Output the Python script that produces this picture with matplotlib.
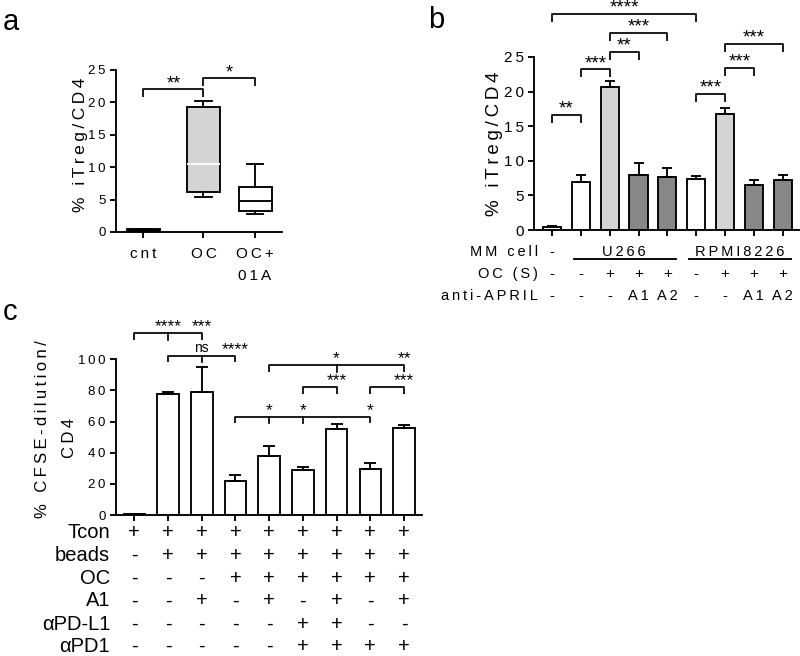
import numpy as np
import matplotlib
matplotlib.use('Agg')
import matplotlib.pyplot as plt
from matplotlib.transforms import blended_transform_factory

plt.rcParams['font.family'] = ['Liberation Sans', 'DejaVu Sans']

# ---------------- data ----------------
# panel a : box plot summary
a_groups = ['cnt', 'OC', 'OC+\n01A']
a_whislo = [0.05, 5.4, 2.8]
a_q1 = [0.05, 6.2, 3.2]
a_med = [0.25, 10.5, 4.8]
a_q3 = [0.45, 19.3, 6.9]
a_whishi = [0.45, 20.2, 10.5]
a_yticks = [0, 5, 10, 15, 20, 25]
a_sig = [(0, 1, '**', 22.1), (1, 2, '*', 23.8)]

# panel b : bars
b_values = [0.4, 6.9, 20.7, 7.9, 7.6, 7.35, 16.8, 6.55, 7.2]
b_err = [0.15, 1.0, 0.9, 1.8, 1.35, 0.4, 0.8, 0.7, 0.7]
b_group = ['none', 'none', 'OC', 'anti', 'anti', 'none', 'OC', 'anti', 'anti']
b_yticks = [0, 5, 10, 15, 20, 25]
b_mm_cells = ['U266', 'RPMI8226']
b_mm_span = [(1, 4), (5, 8)]
b_oc = ['-', '-', '+', '+', '+', '-', '+', '+', '+']
b_april = ['-', '-', '-', 'A1', 'A2', '-', '-', 'A1', 'A2']
b_sig = [(0, 5, '****', 31.2), (2, 4, '***', 28.5), (2, 3, '**', 25.7),
         (1, 2, '***', 23.2), (0, 1, '**', 16.6), (5, 6, '***', 19.7),
         (6, 7, '***', 23.4), (6, 8, '***', 26.9)]

# panel c : bars
c_values = [0.5, 78, 79, 22, 38, 28.7, 55.5, 29.8, 55.9]
c_err = [0.3, 1.3, 16, 3.5, 6.5, 2.3, 3.0, 3.4, 2.0]
c_yticks = [0, 20, 40, 60, 80, 100]
c_row_names = ['Tcon', 'beads', 'OC', 'A1', 'αPD-L1', 'αPD1']
c_rows = [
    ['+', '+', '+', '+', '+', '+', '+', '+', '+'],
    ['-', '+', '+', '+', '+', '+', '+', '+', '+'],
    ['-', '-', '-', '+', '+', '+', '+', '+', '+'],
    ['-', '-', '+', '-', '+', '-', '+', '-', '+'],
    ['-', '-', '-', '-', '-', '+', '+', '-', '-'],
    ['-', '-', '-', '-', '-', '+', '+', '+', '+'],
]
# brackets: (start, end, y, inner ticks, [(x, label, text_y)])
c_sig = [
    (0, 2, 117.1, [1], [(1, '****', 118.3), (2, '***', 118.3)]),
    (1, 3, 102.4, [2], [(2, 'ns', 104.5), (3, '****', 103.6)]),
    (3, 7, 63.2, [4, 5], [(4, '*', 64.0), (5, '*', 64.0), (7, '*', 64.0)]),
    (4, 8, 96.4, [6], [(6, '*', 97.8), (8, '**', 97.8)]),
    (5, 6, 82.0, [], [(6, '***', 83.5)]),
    (7, 8, 82.0, [], [(8, '***', 83.5)]),
]

# ---------------- style ----------------
W, H = 800, 656
LW = 1.35
fill = {'none': 'white', 'OC': '#d4d4d4', 'anti': '#878787'}


def track(s):
    return '\n'.join('\u2009'.join(line) for line in s.split('\n'))


def fx(px):
    return px / W


def fy(py):
    return 1 - py / H


def style_axes(ax):
    for s in ['top', 'right']:
        ax.spines[s].set_visible(False)
    for s in ['left', 'bottom']:
        ax.spines[s].set_linewidth(LW)
    ax.tick_params(direction='out', length=4, width=LW, color='k')


def bracket(ax, x1, x2, y, tip, inner=(), lw=1.25):
    ax.plot([x1, x1, x2, x2], [y - tip, y, y, y - tip], color='k', lw=lw,
            clip_on=False, solid_capstyle='butt')
    for t in inner:
        ax.plot([t, t], [y, y - tip], color='k', lw=lw, clip_on=False)


fig = plt.figure(figsize=(W / 100, H / 100), dpi=100)

# ================= panel a =================
axa = fig.add_axes([fx(116), fy(232), fx(282 - 116), (232 - 70) / H])
style_axes(axa)
a_pos = [0, 1, 1.86]
stats = []
for i in range(len(a_groups)):
    stats.append(dict(med=a_med[i], q1=a_q1[i], q3=a_q3[i],
                      whislo=a_whislo[i], whishi=a_whishi[i], fliers=[]))
bp = axa.bxp(stats, positions=a_pos, widths=0.55, patch_artist=True,
             showfliers=False, capwidths=0.28,
             boxprops=dict(linewidth=LW, edgecolor='k'),
             whiskerprops=dict(linewidth=LW, color='k'),
             capprops=dict(linewidth=LW, color='k'),
             medianprops=dict(linewidth=LW, color='k'))
for patch, fc in zip(bp['boxes'], ['black', '#d4d4d4', 'white']):
    patch.set_facecolor(fc)
bp['medians'][1].set_color('white')
axa.set_xlim(-0.458, 2.31)
axa.set_ylim(0, 25)
axa.set_yticks(a_yticks)
axa.set_yticklabels([track(str(t)) for t in a_yticks], fontsize=9.5)
axa.set_xticks(a_pos)
axa.set_xticklabels([track(g) for g in a_groups], fontsize=11)
for t in axa.get_xticklabels():
    t.set_linespacing(1.7)
axa.tick_params(axis='x', pad=7)
for (i, j, lab, y) in a_sig:
    bracket(axa, a_pos[i], a_pos[j], y, 1.3)
    axa.text((a_pos[i] + a_pos[j]) / 2, y + 0.1, lab, ha='center',
             va='baseline', fontsize=13)
fig.text(fx(80), fy(145), track('% iTreg/CD4'), rotation=90, ha='center',
         va='center', fontsize=12.5)
fig.text(fx(3), fy(22), 'a', fontsize=21, va='center', ha='left')

# ================= panel b =================
axb = fig.add_axes([fx(534), fy(230), fx(800 - 534), (230 - 57) / H])
style_axes(axb)
xb = np.arange(len(b_values))
axb.bar(xb, b_values, width=0.63, color=[fill[g] for g in b_group],
        edgecolor='k', linewidth=LW, zorder=2)
axb.errorbar(xb, b_values, yerr=[np.zeros(len(b_err)), b_err], fmt='none',
             ecolor='k', elinewidth=LW, capsize=3.5, capthick=LW, zorder=3)
axb.set_xlim(-0.625, 8.6)
axb.set_ylim(0, 25)
axb.set_yticks(b_yticks)
axb.set_yticklabels([track(str(t)) for t in b_yticks], fontsize=11)
axb.set_xticks(xb)
axb.set_xticklabels([])
for (i, j, lab, y) in b_sig:
    bracket(axb, i, j, y, 1.15)
    axb.text((i + j) / 2, y + 0.2, lab, ha='center', va='baseline',
             fontsize=13.5)
fig.text(fx(494), fy(144), track('% iTreg/CD4'), rotation=90, ha='center',
         va='center', fontsize=13.5)
fig.text(fx(428), fy(20), 'b', fontsize=21, va='center', ha='left')

tb = blended_transform_factory(axb.transData, fig.transFigure)
tfs = 10.5
rows_b = [('MM cell', 256.5), ('OC (S)', 278), ('anti-APRIL', 300.5)]
for name, py in rows_b:
    fig.text(fx(538), fy(py), track(name), ha='right', va='baseline',
             fontsize=tfs)
axb.text(0, fy(256.5), '-', transform=tb, ha='center', va='baseline',
         fontsize=tfs)
for cell, (i, j) in zip(b_mm_cells, b_mm_span):
    axb.text((i + j) / 2, fy(256.5), track(cell), transform=tb, ha='center',
             va='baseline', fontsize=tfs)
    axb.plot([i - 0.25, j + 0.3], [fy(259.5), fy(259.5)], transform=tb,
             color='k', lw=LW, clip_on=False)
for k in range(len(b_values)):
    axb.text(k, fy(278), b_oc[k], transform=tb, ha='center', va='baseline',
             fontsize=tfs + 0.5)
    axb.text(k, fy(300.5), track(b_april[k]), transform=tb, ha='center',
             va='baseline', fontsize=tfs)

# ================= panel c =================
axc = fig.add_axes([fx(116), fy(515), fx(421.7 - 116), (515 - 359.3) / H])
style_axes(axc)
xc = np.arange(len(c_values))
axc.bar(xc, c_values, width=0.64, color='white', edgecolor='k',
        linewidth=LW, zorder=2)
axc.errorbar(xc, c_values, yerr=[np.zeros(len(c_err)), c_err], fmt='none',
             ecolor='k', elinewidth=LW, capsize=4.5, capthick=LW, zorder=3)
axc.set_xlim(-0.543, 8.525)
axc.set_ylim(0, 100)
axc.set_yticks(c_yticks)
axc.set_yticklabels([track(str(t)) for t in c_yticks], fontsize=9.5)
axc.set_xticks(xc)
axc.set_xticklabels([])
for (i, j, y, inner, labs) in c_sig:
    bracket(axc, i, j, y, 4.4, inner)
    for (x, lab, ty) in labs:
        axc.text(x, ty, lab, ha='center', va='baseline',
                 fontsize=10 if lab == 'ns' else 12.5)
fig.text(fx(42.5), fy(429), track('% CFSE-dilution/'), rotation=90,
         ha='center', va='center', fontsize=12)
fig.text(fx(70), fy(438), track('CD4'), rotation=90, ha='center',
         va='center', fontsize=12)
fig.text(fx(3), fy(312), 'c', fontsize=21, va='center', ha='left')

tc = blended_transform_factory(axc.transData, fig.transFigure)
row_py = [538, 561, 583.5, 606.5, 629.5, 651.5]
for name, vals, py in zip(c_row_names, c_rows, row_py):
    fig.text(fx(110), fy(py), name, ha='right', va='baseline',
             fontsize=14.5)
    for k, v in enumerate(vals):
        axc.text(k, fy(py), v, transform=tc, ha='center', va='baseline',
                 fontsize=14.5)

fig.savefig('out.png', dpi=100)
